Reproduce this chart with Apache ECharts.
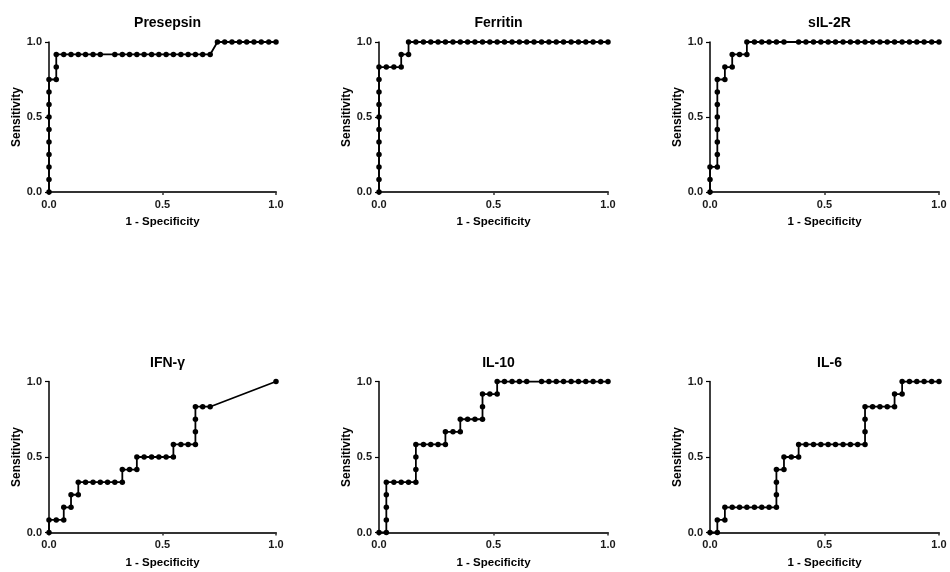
<!DOCTYPE html>
<html>
<head>
<meta charset="utf-8">
<script src="https://cdn.jsdelivr.net/npm/echarts@6/dist/echarts.min.js"></script>
<style>
  html, body { margin: 0; padding: 0; background: #fff; }
  #chart { width: 950px; height: 572px; }
</style>
</head>
<body>
<div id="chart"></div>
<script>
// Panel titles
const panelTitles = ["Presepsin", "Ferritin", "sIL-2R", "IFN-γ", "IL-10", "IL-6"];
const xAxisName = "1 - Specificity";
const yAxisName = "Sensitivity";
const tickValues = [0, 0.5, 1.0];

// ROC points: 1 - Specificity (x) and Sensitivity (y)
const presepsinX = [0,0,0,0,0,0,0,0,0,0, 0.032,0.032,0.032, 0.065,0.097,0.129,0.161,0.194,0.226,
  0.290,0.323,0.355,0.387,0.419,0.452,0.484,0.516,0.548,0.581,0.613,0.645,0.677,0.710,
  0.742,0.774,0.806,0.839,0.871,0.903,0.935,0.968,1.0];
const presepsinY = [0,0.083,0.167,0.25,0.333,0.417,0.5,0.583,0.667,0.75, 0.75,0.833,0.917, 0.917,0.917,0.917,0.917,0.917,0.917,
  0.917,0.917,0.917,0.917,0.917,0.917,0.917,0.917,0.917,0.917,0.917,0.917,0.917,0.917,
  1,1,1,1,1,1,1,1,1];

const ferritinX = [0,0,0,0,0,0,0,0,0,0,0, 0.032,0.065,0.097,0.097,0.129,0.129,
  0.161,0.194,0.226,0.258,0.290,0.323,0.355,0.387,0.419,0.452,0.484,0.516,0.548,0.581,0.613,0.645,0.677,0.710,0.742,0.774,0.806,0.839,0.871,0.903,0.935,0.968,1.0];
const ferritinY = [0,0.083,0.167,0.25,0.333,0.417,0.5,0.583,0.667,0.75,0.833, 0.833,0.833,0.833,0.917,0.917,1,
  1,1,1,1,1,1,1,1,1,1,1,1,1,1,1,1,1,1,1,1,1,1,1,1,1,1,1];

const sil2rX = [0,0,0, 0.032,0.032,0.032,0.032,0.032,0.032,0.032,0.032, 0.065,0.065, 0.097,0.097, 0.129, 0.161,0.161,
  0.194,0.226,0.258,0.290,0.323, 0.387,0.419,0.452,0.484,0.516,0.548,0.581,0.613,0.645,0.677,0.710,0.742,0.774,0.806,0.839,0.871,0.903,0.935,0.968,1.0];
const sil2rY = [0,0.083,0.167, 0.167,0.25,0.333,0.417,0.5,0.583,0.667,0.75, 0.75,0.833, 0.833,0.917, 0.917, 0.917,1,
  1,1,1,1,1, 1,1,1,1,1,1,1,1,1,1,1,1,1,1,1,1,1,1,1,1];

const ifngX = [0,0, 0.032, 0.065,0.065, 0.097,0.097, 0.129,0.129, 0.161,0.194,0.226,0.258,0.290, 0.323,0.323, 0.355, 0.387,0.387,
  0.419,0.452,0.484,0.516, 0.548,0.548, 0.581,0.613, 0.645,0.645,0.645,0.645, 0.677,0.710, 1.0];
const ifngY = [0,0.083, 0.083, 0.083,0.167, 0.167,0.25, 0.25,0.333, 0.333,0.333,0.333,0.333,0.333, 0.333,0.417, 0.417, 0.417,0.5,
  0.5,0.5,0.5,0.5, 0.5,0.583, 0.583,0.583, 0.583,0.667,0.75,0.833, 0.833,0.833, 1.0];

const il10X = [0, 0.032,0.032,0.032,0.032,0.032, 0.065,0.097,0.129, 0.161,0.161,0.161,0.161, 0.194,0.226,0.258, 0.290,0.290,
  0.323, 0.355,0.355, 0.387,0.419, 0.452,0.452,0.452, 0.484, 0.516,0.516, 0.548,0.581,0.613,0.645,
  0.710,0.742,0.774,0.806,0.839,0.871,0.903,0.935,0.968,1.0];
const il10Y = [0, 0,0.083,0.167,0.25,0.333, 0.333,0.333,0.333, 0.333,0.417,0.5,0.583, 0.583,0.583,0.583, 0.583,0.667,
  0.667, 0.667,0.75, 0.75,0.75, 0.75,0.833,0.917, 0.917, 0.917,1, 1,1,1,1,
  1,1,1,1,1,1,1,1,1,1];

const il6X = [0, 0.032,0.032, 0.065,0.065, 0.097,0.129,0.161,0.194,0.226,0.258, 0.290,0.290,0.290,0.290, 0.323,0.323, 0.355, 0.387,0.387,
  0.419,0.452,0.484,0.516,0.548,0.581,0.613,0.645, 0.677,0.677,0.677,0.677, 0.710,0.742,0.774, 0.806,0.806, 0.839,0.839,
  0.871,0.903,0.935,0.968,1.0];
const il6Y = [0, 0,0.083, 0.083,0.167, 0.167,0.167,0.167,0.167,0.167,0.167, 0.167,0.25,0.333,0.417, 0.417,0.5, 0.5, 0.5,0.583,
  0.583,0.583,0.583,0.583,0.583,0.583,0.583,0.583, 0.583,0.667,0.75,0.833, 0.833,0.833,0.833, 0.833,0.917, 0.917,1,
  1,1,1,1,1];

const panelX = [presepsinX, ferritinX, sil2rX, ifngX, il10X, il6X];
const panelY = [presepsinY, ferritinY, sil2rY, ifngY, il10Y, il6Y];

// Layout (pixels)
const colLeft = [49, 379, 710];
const colWidth = [227, 229, 229];
const rowTop = [42, 381.5];
const rowHeight = [150, 151];
const titleTop = [11, 351];

const FONT = '"Liberation Sans", Arial, sans-serif';

const grids = [], xAxes = [], yAxes = [], series = [], titles = [];
for (let i = 0; i < 6; i++) {
  const c = i % 3, r = Math.floor(i / 3);
  grids.push({ left: colLeft[c], top: rowTop[r], width: colWidth[c], height: rowHeight[r], containLabel: false });
  titles.push({
    text: panelTitles[i],
    left: colLeft[c] + colWidth[c] / 2,
    top: titleTop[r],
    textAlign: 'center',
    textStyle: { fontFamily: FONT, fontWeight: 'bold', fontSize: 14, color: '#000' }
  });
  xAxes.push({
    gridIndex: i, type: 'value', min: 0, max: 1, interval: 0.5,
    name: xAxisName, nameLocation: 'middle', nameGap: 24,
    nameTextStyle: { fontFamily: FONT, fontWeight: 'bold', fontSize: 11.5, color: '#000' },
    axisLine: { show: true, onZero: false, lineStyle: { color: '#333', width: 2 } },
    axisTick: { show: true, inside: false, length: 3, lineStyle: { color: '#333', width: 1.5 } },
    axisLabel: { margin: 7, fontFamily: FONT, fontWeight: 'bold', fontSize: 11, color: '#1a1a1a',
      formatter: v => v.toFixed(1) },
    splitLine: { show: false }
  });
  yAxes.push({
    gridIndex: i, type: 'value', min: 0, max: 1, interval: 0.5,
    name: yAxisName, nameLocation: 'middle', nameGap: 24,
    nameTextStyle: { fontFamily: FONT, fontWeight: 'bold', fontSize: 12, color: '#000' },
    axisLine: { show: true, onZero: false, lineStyle: { color: '#000', width: 1.5 } },
    axisTick: { show: true, inside: false, length: 4, lineStyle: { color: '#000', width: 1.2 } },
    axisLabel: { margin: 7, fontFamily: FONT, fontWeight: 'bold', fontSize: 11, color: '#1a1a1a',
      formatter: v => v.toFixed(1) },
    splitLine: { show: false }
  });
  series.push({
    type: 'line', xAxisIndex: i, yAxisIndex: i,
    data: panelX[i].map((x, k) => [x, panelY[i][k]]),
    symbol: 'circle', symbolSize: 5.5,
    lineStyle: { color: '#000', width: 1.8 },
    itemStyle: { color: '#000' },
    z: 3,
    animation: false
  });
}

const chart = echarts.init(document.getElementById('chart'), null, { renderer: 'canvas' });
chart.setOption({
  backgroundColor: '#fff',
  animation: false,
  title: titles,
  grid: grids,
  xAxis: xAxes,
  yAxis: yAxes,
  series: series
});
</script>
</body>
</html>
